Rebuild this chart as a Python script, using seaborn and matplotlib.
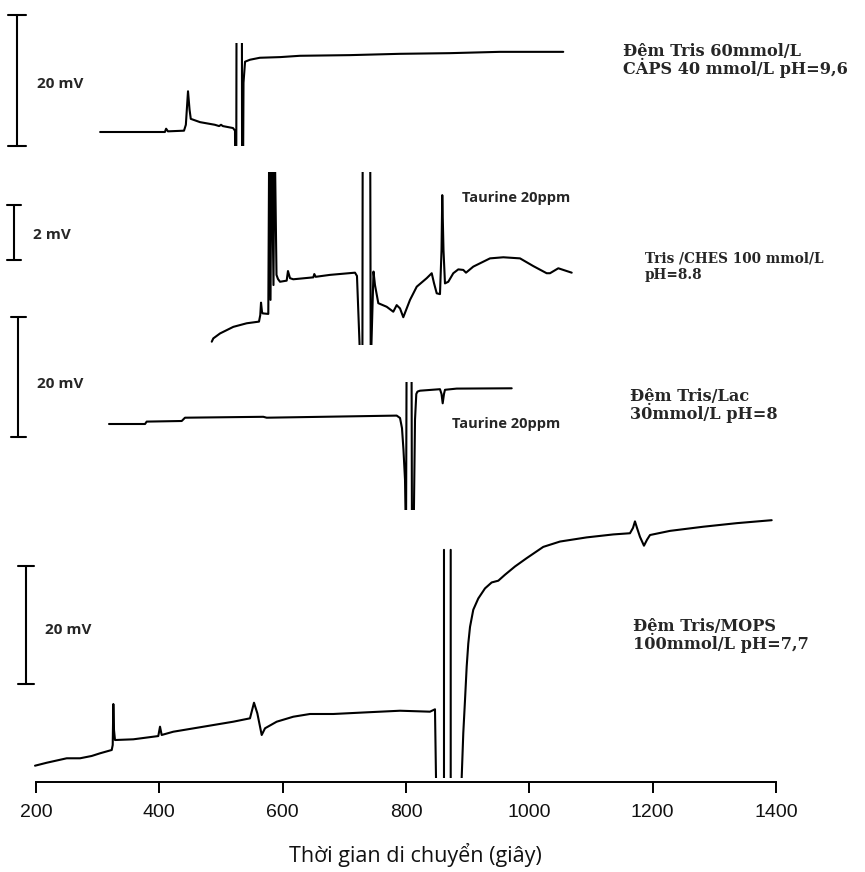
import matplotlib
matplotlib.use("Agg")
import matplotlib.pyplot as plt
import pandas as pd
import seaborn as sns

# target picture is 865 x 872 px
W, H = 865, 872
DPI = 100
X0_PX, X1_PX = 36, 776     # pixel columns of 200 s and 1400 s
AXIS_PX = 782              # pixel row of the time axis


def px2s(px):
    """pixel column -> migration time (s)"""
    return 200 + (px - X0_PX) * 1200 / (X1_PX - X0_PX)


# ---- electropherograms: time (s) and signal (mV, relative to start of trace)
# off-scale system peaks are given as large values and get clipped by the panel
# Tris 60 / CAPS 40, pH 9.6
t1 = [304, 409, 411, 414, 440, 443, 446.5, 449, 451, 466, 490, 497, 500, 503,
      519.5, 522.7, 524.3, 525.6, 533.6, 534.5, 536.5, 539, 547, 563, 596, 628,
      709, 790, 871, 952, 1055]
v1 = [0, 0, 0.5, 0.1, 0.2, 1.1, 6.2, 3.4, 2.0, 1.5, 1.1, 0.9, 1.1, 0.9,
      0.6, 0.2, -30, 40, 40, -30, 7.5, 10.7, 11.0, 11.3, 11.4, 11.6,
      11.7, 11.9, 12.0, 12.2, 12.2]

# Tris / CHES 100, pH 8.8
t2 = [485, 487.5, 498.4, 520, 541.7, 561.6, 563.7, 564.9, 566.5, 567.6, 576.7,
      578.3, 580.3, 581.9, 585.1, 586.8, 590, 592.4, 595.7, 606.5, 608.6, 611.9,
      617.2, 649.7, 651.3, 653.6, 676.8, 717.3, 720.5, 726.2, 729.3, 729.8,
      741.9, 742.8, 747.3, 749.7, 755.1, 768.7, 779.4, 784.9, 790.3, 795.6,
      806.5, 817.4, 833.6, 841.7, 845.4, 849.8, 855.1, 857.6, 858.8, 860.8,
      863.2, 868.6, 876.7, 884.8, 892.9, 897.3, 909.1, 936.2, 957.8, 984.9,
      1006.4, 1028.1, 1033.5, 1047, 1055.1, 1068.7]
v2 = [0, 0.12, 0.3, 0.54, 0.67, 0.73, 0.97, 1.42, 1.08, 1.03, 1.01,
      8, 1.52, 8, 2.06, 8, 2.43, 2.28, 2.18, 2.22, 2.57, 2.31,
      2.27, 2.34, 2.46, 2.36, 2.43, 2.51, 2.39, -1, -1, 8,
      8, -1, 2.55, 2.06, 1.4, 1.27, 1.09, 1.33, 1.21, 0.89,
      1.52, 2.0, 2.31, 2.49, 2.13, 1.76, 1.73, 3.33, 5.33, 3.33,
      2.12, 2.18, 2.49, 2.63, 2.61, 2.51, 2.73, 3.03, 3.07, 3.03,
      2.75, 2.49, 2.49, 2.67, 2.61, 2.51]

# Tris / Lac 30, pH 8
t3 = [318.4, 376.8, 379.5, 436.3, 441.6, 568.6, 574.1, 784.9, 790.3, 793.5,
      795.9, 798.4, 800, 801.1, 808.9, 809.7, 812.2, 814.6, 816.7, 818.6, 822.7,
      855.1, 857.6, 859.5, 861.6, 863.2, 882.2, 971.4]
v3 = [0, 0, 0.4, 0.5, 1.05, 1.2, 1.05, 1.4, 1.0, -0.7,
      -4.3, -9.3, -20, 15, 15, -20, -20, 0.7, 5.0, 5.4, 5.55,
      5.8, 5.0, 3.45, 5.0, 5.7, 5.9, 5.95]

# Tris / MOPS 100, pH 7.7 (two pieces, the system peak is cut at the top)
t4a = [198.4, 217.4, 249.8, 271.4, 290.3, 303.8, 322.8, 324.4, 325.4, 326.5,
       328.1, 357.8, 398.3, 401.1, 403.8, 422.6, 465.9, 519.9, 547, 553.5,
       558.9, 566, 571.4, 590.3, 617.2, 644.3, 682.1, 736.3, 790.3, 838.9,
       847, 849.8, 861.6, 861.6]
v4a = [0, 0.5, 1.25, 1.25, 1.64, 2.09, 2.65, 3.49, 10.4, 6.0,
       4.33, 4.45, 5.0, 6.58, 5.18, 5.73, 6.48, 7.42, 7.99, 10.62,
       8.84, 5.18, 6.31, 7.42, 8.26, 8.72, 8.72, 9.0, 9.27, 9.11,
       9.51, -10, -10, 36.4]
t4b = [872.5, 872.5, 887.6, 890.3, 892.9, 895.7, 898.4, 901.0, 903.8, 909.1,
       917.2, 928.1, 938.9, 949.7, 960.5, 976.8, 995.7, 1022.6, 1049.7, 1093,
       1136.1, 1163.2, 1168.1, 1171.3, 1174.6, 1179.4, 1185.9, 1190.8, 1195.7,
       1228.1, 1282.1, 1336.3, 1393]
v4b = [36.4, -10, -10, -2, 5.5, 11.1, 16.7, 20.6, 23.4, 26.3,
       28.2, 29.9, 30.9, 31.2, 32.2, 33.6, 35.0, 36.9, 37.8, 38.5,
       39.0, 39.2, 40.1, 41.2, 40.1, 38.6, 37.1, 38.1, 38.9,
       39.6, 40.3, 40.9, 41.4]

buffer_labels = [
    ["Đệm Tris 60mmol/L", "CAPS 40 mmol/L pH=9,6"],
    ["Tris /CHES 100 mmol/L", "pH=8.8"],
    ["Đệm Tris/Lac", "30mmol/L pH=8"],
    ["Đệm Tris/MOPS", "100mmol/L pH=7,7"],
]
scale_mv = [20, 2, 20, 20]
peak_label = "Taurine 20ppm"
x_ticks = [200, 400, 600, 800, 1000, 1200, 1400]
x_title = "Thời gian di chuyển (giây)"


def make_df(parts):
    frames = []
    for seg, (t, v) in enumerate(parts):
        frames.append(pd.DataFrame({"time": t, "signal": v, "seg": seg}))
    return pd.concat(frames, ignore_index=True)


traces = [
    make_df([(t1, v1)]),
    make_df([(t2, v2)]),
    make_df([(t3, v3)]),
    make_df([(t4a, v4a), (t4b, v4b)]),
]

# panel layout in pixels: clip top, clip bottom, pixel row of signal 0, px per mV
panels = [
    dict(top=43, bot=146, base=132, k=6.57, bar_px=17, bar_bot=146, cap=9,
         txt=(37, 88), lab=(623, 55.5, 18, 11.6)),
    dict(top=172, bot=345, base=341.7, k=27.5, bar_px=14, bar_bot=260, cap=7,
         txt=(33, 239), lab=(645, 262, 17, 9.8), peak=(462, 201.5)),
    dict(top=381.7, bot=510, base=424, k=6.0, bar_px=18.3, bar_bot=436.7, cap=7.2,
         txt=(37, 387.5), lab=(630, 400.5, 18, 11.6), peak=(452, 427.5)),
    dict(top=510, bot=778, base=765.7, k=5.93, bar_px=26, bar_bot=684.3, cap=8,
         txt=(45, 634), lab=(633, 630.5, 18, 11.6)),
]

sns.set_style("white")
plt.rcParams["font.family"] = ["DejaVu Sans"]

fig = plt.figure(figsize=(W / DPI, H / DPI), dpi=DPI)
fig.patch.set_facecolor("white")

# base axes: time axis + all text, y in pixel rows
ax0 = fig.add_axes([0, 1 - AXIS_PX / H, 1, AXIS_PX / H])
ax0.set_facecolor("none")
ax0.set_xlim(px2s(0), px2s(W))
ax0.set_ylim(AXIS_PX, 0)
for side in ["top", "left", "right"]:
    ax0.spines[side].set_visible(False)
ax0.spines["bottom"].set_bounds(200, 1400)
ax0.spines["bottom"].set_linewidth(1.4)
ax0.spines["bottom"].set_color("black")
ax0.set_yticks([])
ax0.set_xticks(x_ticks)
ax0.set_xticklabels([str(t) for t in x_ticks], fontfamily="Liberation Sans",
                    fontsize=14, color="#111111")
ax0.tick_params(axis="x", direction="out", length=8, width=1.4, pad=7.5,
                color="black", bottom=True)
ax0.set_xlabel(x_title, fontfamily=["Open Sans", "DejaVu Sans"], fontsize=15.5,
               color="#111111", va="center")
ax0.xaxis.set_label_coords(px2s(415), 855, transform=ax0.transData)

LW = 1.5
for i, (p, df) in enumerate(zip(panels, traces)):
    ax = fig.add_axes([0, 1 - p["bot"] / H, 1, (p["bot"] - p["top"]) / H])
    ax.set_xlim(px2s(0), px2s(W))
    ax.set_ylim((p["base"] - p["bot"]) / p["k"], (p["base"] - p["top"]) / p["k"])
    sns.lineplot(data=df, x="time", y="signal", units="seg", estimator=None,
                 sort=False, color="black", lw=LW, ax=ax, legend=False)
    ax.set_axis_off()

    # scale bar
    bx = px2s(p["bar_px"])
    cw = p["cap"] * 1200 / (X1_PX - X0_PX)
    y0 = (p["base"] - p["bar_bot"]) / p["k"]
    y1 = y0 + scale_mv[i]
    ax.plot([bx, bx], [y0, y1], color="black", lw=LW, clip_on=False)
    for yy in (y0, y1):
        ax.plot([bx - cw, bx + cw], [yy, yy], color="black", lw=LW, clip_on=False)

    tx, ty = p["txt"]
    ax0.text(px2s(tx), ty, f"{scale_mv[i]} mV", fontfamily="Open Sans",
             fontweight="bold", fontsize=11, va="baseline", ha="left")

    lx, ly, dy, fs = p["lab"]
    for j, line in enumerate(buffer_labels[i]):
        ax0.text(px2s(lx), ly + j * dy, line, fontfamily="DejaVu Serif",
                 fontweight="bold", fontsize=fs, va="baseline", ha="left")

    if "peak" in p:
        kx, ky = p["peak"]
        ax0.text(px2s(kx), ky, peak_label, fontfamily="Open Sans",
                 fontweight="bold", fontsize=10.5, va="baseline", ha="left")

fig.savefig("out.png", dpi=DPI)
